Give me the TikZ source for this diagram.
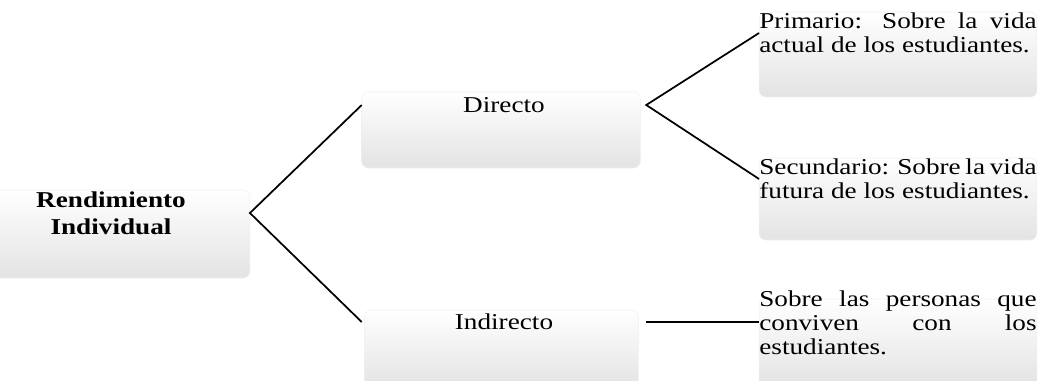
\documentclass[tikz,border=0pt]{standalone}
\usepackage{fontspec}
\setmainfont{Liberation Serif}[FakeStretch=1.2]
\usetikzlibrary{calc,backgrounds}
\hyphenpenalty=10000
\tolerance=10000
\hbadness=10000

\begin{document}
\begin{tikzpicture}[x=0.75pt, y=0.75pt,
    item/.style={inner sep=0pt, align=center, font=\fontsize{17}{18}\selectfont},
    leaf/.style={inner sep=0pt, text width=208pt, align=justify, font=\fontsize{17}{18}\selectfont},
    panel/.style={rounded corners=5pt, top color=white, bottom color=black!11, draw=black!6},
    link/.style={line width=1.3pt}]
    \useasboundingbox (0,-380) rectangle (1042,0);

    % Level 0
    \node [item, text width=208pt, font=\fontsize{17}{20}\selectfont\bfseries] (root) at (111,-213) {Rendimiento\\Individual};

    % Level 1
    \node [item, text width=213pt] (dir) at (504,-105) {Directo};
    \node [item, text width=213pt] (ind) at (504,-322) {Indirecto};

    % Level 2
    \node [leaf] (prim) at (898,-33) {Primario: Sobre la vida\linebreak actual de los estudiantes.};
    \node [leaf] (sec) at (898,-179) {Secundario: Sobre la vida\linebreak futura de los estudiantes.};
    \node [leaf] (conv) at (898,-323) {Sobre las personas que\linebreak conviven con los\linebreak estudiantes.};

    % Shaded panels behind the text
    \begin{pgfonlayer}{background}
    \path [panel] ($(root.west)+(0,23)$) rectangle ($(root.east)+(0,-65)$);
    \path [panel] ($(dir.west)+(0,13)$) rectangle ($(dir.east)+(-6,-63)$);
    \path [panel] ($(ind.west)+(3,12)$) rectangle ($(ind.east)+(-8,-66)$);
    \path [panel] ($(prim.west)+(0,21)$) rectangle ($(prim.east)+(0,-64)$);
    \path [panel] ($(sec.west)+(0,21)$) rectangle ($(sec.east)+(0,-61)$);
    \path [panel] ($(conv.west)+(0,24)$) rectangle ($(conv.east)+(0,-64)$);
    \end{pgfonlayer}

    % Connectors
    \draw [link] (dir.west) -- (root.east) -- (ind.west);
    \draw [link] (prim.west) -- (dir.east) -- (sec.west);
    \draw [link] (ind.east) -- (ind.east -| conv.west);
\end{tikzpicture}
\end{document}
